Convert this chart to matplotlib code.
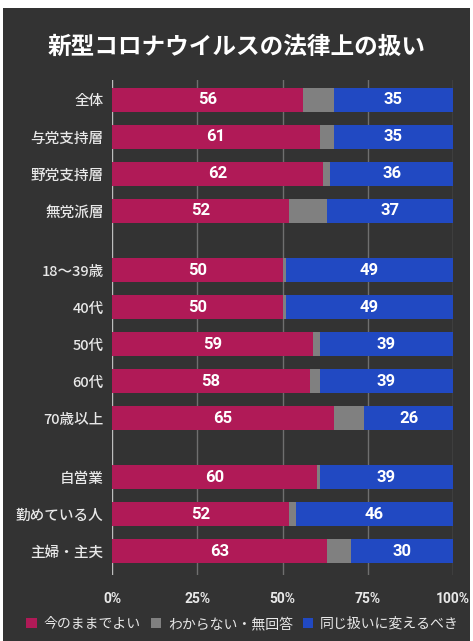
import matplotlib
matplotlib.use("Agg")
import numpy as np
import matplotlib.pyplot as plt
from matplotlib.patches import Rectangle, Patch

plt.rcParams['font.family'] = ['Noto Sans CJK JP', 'DejaVu Sans']

# data
categories = ['全体', '与党支持層', '野党支持層', '無党派層',
              '18〜39歳', '40代', '50代', '60代', '70歳以上',
              '自営業', '勤めている人', '主婦・主夫']
keep = [56, 61, 62, 52, 50, 50, 59, 58, 65, 60, 52, 63]
unknown = [9, 4, 2, 11, 1, 1, 2, 3, 9, 1, 2, 7]
change = [35, 35, 36, 37, 49, 49, 39, 39, 26, 39, 46, 30]
groups = [4, 5, 3]
series_names = ['今のままでよい', 'わからない・無回答', '同じ扱いに変えるべき']
ticks = [0, 25, 50, 75, 100]

colors = ['#b01a57', '#808080', '#2149c2']
bg = '#333333'
txt = '#e8e8e8'
num_font = ['Roboto', 'Noto Sans CJK JP']

# y positions: groups separated by an extra gap
gap = 0.6
ypos = []
y = 0.0
for g in groups:
    for i in range(g):
        ypos.append(y)
        y += 1
    y += gap
ypos = np.array(ypos)

fig = plt.figure(figsize=(4.73, 6.41), dpi=100, facecolor='white')
fig.patches.append(Rectangle((3 / 473, 0), 467 / 473, 1 - 8 / 641,
                             transform=fig.transFigure, facecolor=bg,
                             edgecolor='none', zorder=-10))

ax = fig.add_axes([112 / 473, 1 - 575 / 641, 341 / 473, 495 / 641])
ax.set_facecolor(bg)

keep = np.array(keep)
unknown = np.array(unknown)
change = np.array(change)
h = 0.65
ax.barh(ypos, keep, height=h, color=colors[0], zorder=3)
ax.barh(ypos, unknown, left=keep, height=h, color=colors[1], zorder=3)
ax.barh(ypos, change, left=keep + unknown, height=h, color=colors[2], zorder=3)

for yy, k, u, c in zip(ypos, keep, unknown, change):
    ax.text(k / 2, yy, str(k), ha='center', va='center', color='white',
            fontsize=12, fontweight='bold', family=num_font, zorder=4)
    ax.text(k + u + c / 2, yy, str(c), ha='center', va='center', color='white',
            fontsize=12, fontweight='bold', family=num_font, zorder=4)

ax.set_xlim(0, 100)
ax.set_ylim(ypos[-1] + 0.64, -0.54)
for t in ticks:
    ax.axvline(t, color='#bdbdbd' if t == 0 else '#6f6f6f', lw=1, zorder=1)

ax.set_yticks(ypos)
ax.set_yticklabels(categories, color=txt, fontsize=10.5, fontweight='medium')
ax.set_xticks(ticks)
ax.set_xticklabels([f'{t}%' for t in ticks], color=txt, fontsize=10,
                   fontweight='bold', family=num_font)
ax.tick_params(axis='y', length=0, pad=6)
ax.tick_params(axis='x', length=0, pad=12)
for s in ax.spines.values():
    s.set_visible(False)

fig.text(0.5, 1 - 47 / 641, '新型コロナウイルスの法律上の扱い', ha='center',
         va='center', color='white', fontsize=17, fontweight='bold')

handles = [Patch(facecolor=c, edgecolor='none') for c in colors]
leg = fig.legend(handles, series_names, loc='center', ncol=3,
                 bbox_to_anchor=(0.513, 1 - 624 / 641), frameon=False,
                 fontsize=10, handlelength=0.75, handleheight=0.75,
                 handletextpad=0.5, columnspacing=0.7, labelcolor=txt,
                 borderpad=0.1, borderaxespad=0.1)

fig.savefig('out.png', dpi=100, facecolor=fig.get_facecolor())
